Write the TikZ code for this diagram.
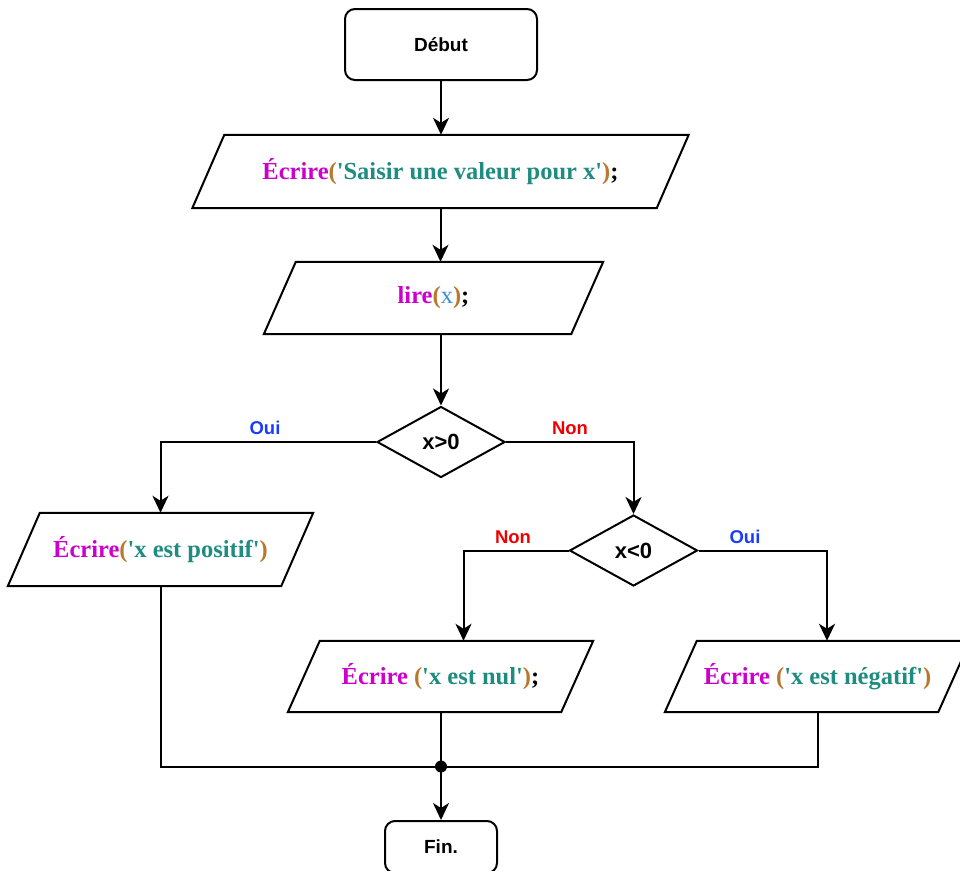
\documentclass[tikz,border=0pt]{standalone}
\usepackage{fontspec}
\setmainfont{Liberation Serif}
\newfontfamily\labfont{Liberation Sans}
\usetikzlibrary{arrows.meta,shapes.geometric}
\definecolor{cmag}{HTML}{CC00CC}
\definecolor{cteal}{HTML}{1E8C80}
\definecolor{cpar}{HTML}{B8782E}
\definecolor{cxblue}{HTML}{3A8FD8}
\definecolor{coui}{HTML}{1A3CFF}
\definecolor{cnon}{HTML}{EE0000}
\newcommand\qt{\textquotesingle}
\newcommand\parabox[6]{% name, x, y, width, height, text
  \node[iotext, minimum width=#4pt, minimum height=#5pt] (#1) at (#2,#3) {#6};
  \draw[shapeline] ([xshift=16pt]#1.north west) -- ([xshift=16pt]#1.north east)
     -- ([xshift=-16pt]#1.south east) -- ([xshift=-16pt]#1.south west) -- cycle;}
\begin{document}
\begin{tikzpicture}[x=1pt,y=-1pt,
  every node/.style={inner sep=0pt},
  shapeline/.style={line width=2pt, line join=miter},
  conn/.style={line width=2pt},
  arr/.style={conn, -{Stealth[length=17pt,width=16pt,inset=5pt]}},
  term/.style={draw, line width=2pt, rounded corners=10pt, font=\labfont\bfseries\fontsize{19}{21}\selectfont},
  iotext/.style={font=\bfseries\fontsize{24.5}{28}\selectfont},
  dec/.style={draw, diamond, line width=2pt, minimum width=128pt, minimum height=71pt, font=\labfont\bfseries\fontsize{22}{24}\selectfont},
  lab/.style={font=\labfont\bfseries\fontsize{18.5}{20}\selectfont}]
\useasboundingbox (0,0) rectangle (960,870);
\clip (0,0) rectangle (960,870);

\node[term, minimum width=192pt, minimum height=71pt] (debut) at (441,44.5) {Début};

\parabox{p1}{440.5}{171.5}{464}{73}{{\color{cmag}Écrire}{\color{cpar}(}{\color{cteal}\qt Saisir une valeur pour x\qt}{\color{cpar})};}
\parabox{p2}{433.5}{298}{307}{72}{{\color{cmag}lire}{\color{cpar}(}{\color{cxblue}\mdseries x}{\color{cpar})};}

\node[dec] (d1) at (441,442) {x>0};
\node[dec] (d2) at (633.5,550.5) {x<0};

\parabox{p3}{160.5}{549.5}{273}{73}{{\color{cmag}Écrire}{\color{cpar}(}{\color{cteal}\qt x est positif\qt}{\color{cpar})}}
\parabox{p4}{440.5}{676.5}{273}{71}{{\color{cmag}Écrire} {\color{cpar}(}{\color{cteal}\qt x est nul\qt}{\color{cpar})};}
\parabox{p5}{817.5}{676.5}{273}{71}{{\color{cmag}Écrire} {\color{cpar}(}{\color{cteal}\qt x est négatif\qt}{\color{cpar})}}

\node[term, minimum width=112pt, minimum height=52pt] (fin) at (441,847) {Fin.};

\coordinate (jn) at (441,766.5);

\draw[arr] (debut.south) -- (debut.south |- p1.north);
\draw[arr] (p1.south) -- (p1.south |- p2.north);
\draw[arr] (p2.south -| d1.north) -- (d1.north);
\draw[arr] (d1.west) -| (p3.north);
\draw[arr] (d1.east) -| (d2.north);
\draw[arr] (d2.west) -| ([xshift=23pt]p4.north);
\draw[arr] (d2.east) -| ([xshift=9.5pt]p5.north);
\draw[conn] (p3.south) |- (jn);
\draw[conn] (p5.south) |- (jn);
\draw[conn] (p4.south -| jn) -- (jn);
\fill (jn) circle (6pt);
\draw[arr] (jn) -- (fin.north);

\node[lab, text=coui] (l1) at (265,428) {Oui};
\node[lab, text=cnon] (l2) at (570,428) {Non};
\node[lab, text=cnon] (l3) at (513,537) {Non};
\node[lab, text=coui] (l4) at (745,537) {Oui};
\end{tikzpicture}
\end{document}
